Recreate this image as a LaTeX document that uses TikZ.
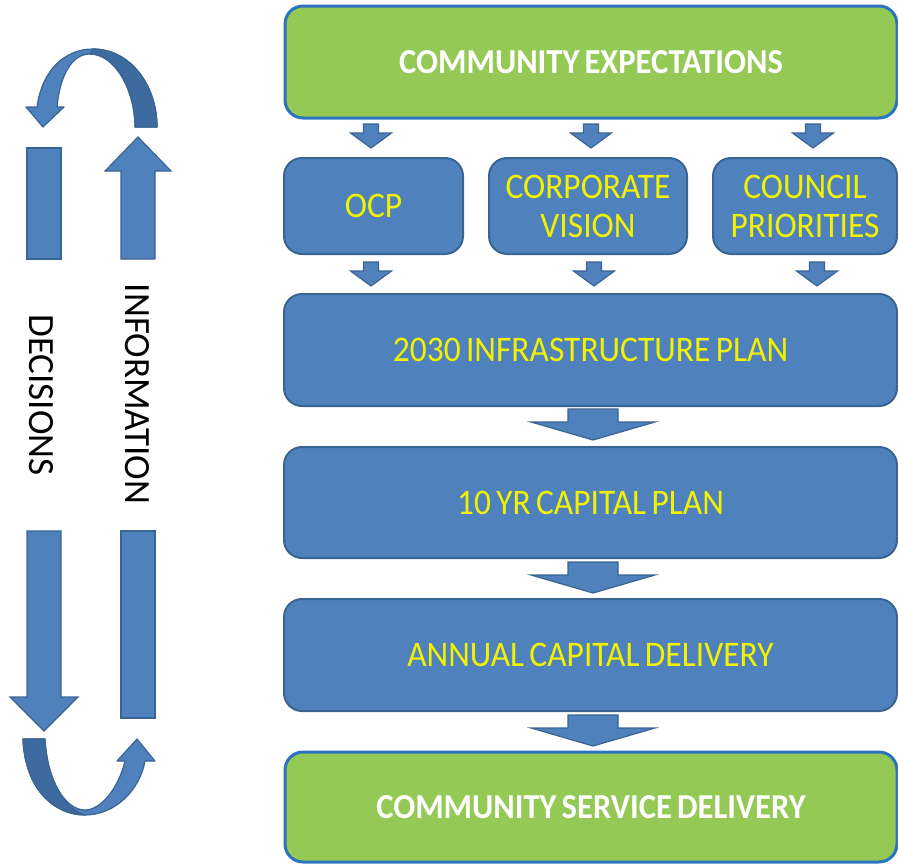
\documentclass[tikz,border=0pt]{standalone}
\usepackage{fontspec}
\setmainfont{Carlito}
\newfontfamily\boxfont{Carlito}[FakeStretch=0.93, WordSpace=0.7]
\definecolor{boxblue}{HTML}{4F81BD}
\definecolor{boxedge}{HTML}{3A6494}
\definecolor{backblue}{HTML}{3D6A9F}
\definecolor{grn}{HTML}{94C955}
\definecolor{grnedge}{HTML}{2C73C0}
\definecolor{txtyel}{HTML}{F2F200}
\newcommand\dnarrow[6]{%
  \draw[blockarr] (#1-#3,#2) -- (#1+#3,#2) -- (#1+#3,#5) -- (#1+#4,#5) -- (#1,#6) -- (#1-#4,#5) -- (#1-#3,#5) -- cycle;}
\tikzset{
  bluebox/.style={draw=boxedge, line width=2pt, fill=boxblue, rounded corners=18pt,
    text=txtyel, font=\boxfont\fontsize{36}{39}\selectfont, align=center, inner sep=0pt},
  greenbox/.style={draw=grnedge, line width=3pt, fill=grn, rounded corners=18pt,
    text=white, font=\boxfont\bfseries\fontsize{35}{39}\selectfont, align=center, inner sep=0pt},
  blockarr/.style={fill=boxblue, draw=boxedge, line width=1.2pt, line join=miter},
  backarr/.style={fill=backblue, draw=boxedge, line width=1.2pt, line join=round},
  sidetext/.style={font=\fontsize{37}{40}\selectfont, text=black, inner sep=0pt, rotate=-90}
}
\begin{document}
\begin{tikzpicture}[x=1pt,y=-1pt]
\useasboundingbox (0,0) rectangle (898,865);

% boxes
\node[greenbox, minimum width=612, minimum height=112] (top) at (591,62) {COMMUNITY EXPECTATIONS};
\node[bluebox, minimum width=179, minimum height=96] (ocp) at (373.5,206) {OCP};
\node[bluebox, minimum width=198, minimum height=96] (cv) at (588,206) {CORPORATE\\VISION};
\node[bluebox, minimum width=184, minimum height=96] (cp) at (805,206) {COUNCIL\\PRIORITIES};
\node[bluebox, minimum width=613, minimum height=112] (infra) at (590.5,350) {2030 INFRASTRUCTURE PLAN};
\node[bluebox, minimum width=613, minimum height=111] (cap) at (590.5,502.5) {10 YR CAPITAL PLAN};
\node[bluebox, minimum width=613, minimum height=112] (annual) at (590.5,655) {ANNUAL CAPITAL DELIVERY};
\node[greenbox, minimum width=612, minimum height=110] (csd) at (591,807) {COMMUNITY SERVICE DELIVERY};

% small block arrows
\dnarrow{371}{124}{7.5}{20.5}{133}{148}
\dnarrow{591}{124}{7.5}{20.5}{133}{148}
\dnarrow{813}{124}{7.5}{20.5}{133}{148}
\dnarrow{371}{262}{7.5}{20.5}{271}{286}
\dnarrow{594}{262}{7.5}{20.5}{271}{286}
\dnarrow{817}{262}{7.5}{20.5}{271}{286}
% big block arrows
\dnarrow{593}{409}{25}{62}{422}{440}
\dnarrow{593}{562}{25}{62}{575}{593}
\dnarrow{593}{715}{25}{62}{728}{746}

% left side: decisions (down)
\draw[blockarr] (27,148) rectangle (61,259);
\draw[blockarr] (27,531) -- (61,531) -- (61,697) -- (78,697) -- (44,731) -- (10,697) -- (27,697) -- cycle;
% information (up)
\draw[blockarr] (121,259) -- (121,171) -- (105,171) -- (138,137) -- (171,171) -- (155,171) -- (155,259) -- cycle;
\draw[blockarr] (121,531) rectangle (155,718);

\node[sidetext] (dec) at (41,395) {DECISIONS};
\node[sidetext] (inf) at (137,394) {INFORMATION};

% top curved arrow
\draw[blockarr, line join=round] (26,107) -- (37,107) .. controls (42,70) and (65,49) .. (93,49)
  .. controls (130,49) and (157,85) .. (157,127) -- (135,127)
  .. controls (135,90) and (115,54) .. (90,54) .. controls (72,54) and (60,75) .. (57,107)
  -- (64,107) -- (43,127) -- cycle;
\draw[backarr] (93,49) .. controls (130,49) and (157,85) .. (157,127) -- (135,127)
  .. controls (135,90) and (115,54) .. (90,54) -- cycle;

% bottom curved arrow
\draw[blockarr, line join=round] (23,739) .. controls (25,790) and (55,815) .. (85,815)
  .. controls (115,815) and (140,790) .. (145,761) -- (155,761) -- (137,739) -- (117,761) -- (125,761)
  .. controls (118,790) and (100,810) .. (85,810)
  .. controls (65,810) and (47,780) .. (45,739) -- cycle;
\draw[backarr] (23,739) .. controls (25,790) and (55,815) .. (85,815)
  .. controls (65,810) and (47,780) .. (45,739) -- cycle;
\end{tikzpicture}
\end{document}
